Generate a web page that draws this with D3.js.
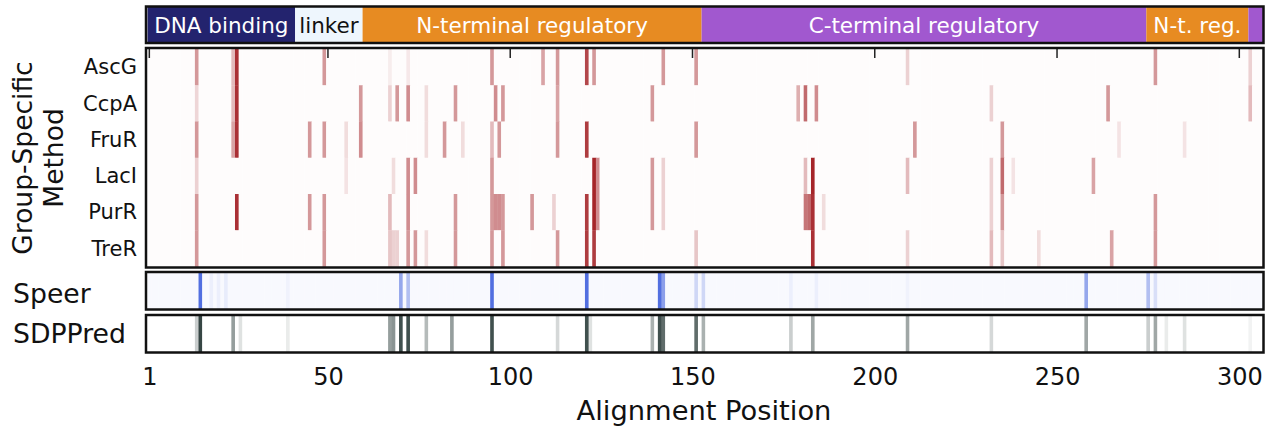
<!DOCTYPE html>
<html><head><meta charset="utf-8">
<script src="https://cdn.jsdelivr.net/npm/d3@7"></script>
<style>body{margin:0;background:#fff}svg{display:block}text{font-family:"DejaVu Sans",sans-serif}</style>
</head><body><svg id="c" width="1282" height="430"></svg>
<script>
// ---- data ----
const nPos = 306;
const tickValues = [1, 50, 100, 150, 200, 250, 300];
const rowNames = ["AscG", "CcpA", "FruR", "LacI", "PurR", "TreR"];
const domainNames = ["DNA binding", "linker", "N-terminal regulatory", "C-terminal regulatory", "N-t. reg.", ""];
const domainStart = [0.5, 41, 59.5, 152.5, 274.5, 302.5];
const domainEnd = [41, 59.5, 152.5, 274.5, 302.5, 306.5];
// [alignment position, score 0..1]
const ascG = [[14,0.45],[24,0.3],[25,0.9],[49,0.45],[67,0.08],[72,0.1],[95,0.45],[109,0.4],[113,0.45],[121,0.8],[123,0.45],[142,0.45],[151,0.45],[209,0.2],[277,0.45],[303,0.2]];
const ccpA = [[14,0.18],[24,0.3],[25,0.9],[59,0.45],[67,0.2],[69,0.45],[72,0.5],[77,0.15],[85,0.45],[96,0.5],[98,0.45],[113,0.4],[139,0.45],[179,0.35],[181,0.65],[184,0.5],[232,0.2],[264,0.45],[303,0.3]];
const fruR = [[14,0.45],[24,0.4],[25,0.9],[45,0.45],[49,0.45],[55,0.15],[59,0.5],[77,0.15],[82,0.45],[87,0.15],[95,0.3],[97,0.45],[113,0.45],[121,0.85],[151,0.45],[211,0.45],[235,0.45],[267,0.12],[285,0.12]];
const lacI = [[14,0.2],[55,0.12],[68,0.15],[72,0.5],[74,0.5],[95,0.45],[123,0.95],[124,0.5],[139,0.45],[142,0.2],[181,0.3],[183,0.95],[209,0.3],[232,0.2],[235,0.65],[238,0.12],[260,0.4]];
const purR = [[14,0.45],[25,0.9],[45,0.45],[49,0.45],[67,0.3],[72,0.5],[85,0.45],[95,0.45],[96,0.5],[97,0.5],[98,0.45],[106,0.45],[112,0.2],[121,0.85],[123,0.95],[124,0.5],[139,0.45],[142,0.2],[181,0.6],[182,0.65],[183,0.9],[186,0.15],[232,0.2],[235,0.45],[277,0.45]];
const treR = [[14,0.45],[49,0.45],[67,0.25],[68,0.2],[69,0.2],[72,0.45],[74,0.45],[77,0.15],[85,0.45],[95,0.45],[98,0.45],[113,0.45],[121,0.85],[123,0.85],[151,0.25],[183,0.9],[209,0.2],[232,0.3],[235,0.25],[245,0.15],[265,0.4],[277,0.45]];
const speer = [[15,0.9],[18,0.1],[20,0.1],[22,0.12],[39,0.08],[70,0.55],[72,0.4],[95,0.9],[121,0.9],[141,0.9],[142,0.6],[151,0.25],[153,0.25],[177,0.1],[184,0.1],[209,0.08],[258,0.55],[275,0.4],[277,0.2]];
const sdpPred = [[14,0.25],[15,0.95],[24,0.5],[26,0.15],[39,0.1],[67,0.5],[68,0.55],[70,0.9],[72,0.9],[77,0.35],[84,0.5],[95,0.9],[113,0.2],[121,0.9],[122,0.15],[139,0.4],[141,0.9],[142,0.75],[151,0.75],[153,0.4],[177,0.25],[183,0.45],[209,0.45],[232,0.2],[258,0.45],[275,0.25],[277,0.45],[280,0.1],[285,0.15],[303,0.06]];
const heatRows = [ascG, ccpA, fruR, lacI, purR, treR];

// ---- drawing ----
const svg = d3.select("#c");
const x = d3.scaleLinear().domain([0.5, nPos + 0.5]).range([147.5, 1263]);
const allPos = d3.range(1, nPos + 1);
const redC = d3.scaleLinear().domain([0, 1]).range(["#ffffff", "#a0191e"]).clamp(true);
const blueC = d3.scaleLinear().domain([0, 1]).range(["#ffffff", "#3f5fdc"]).clamp(true);
const grayC = d3.scaleLinear().domain([0, 1]).range(["#ffffff", "#2b3c3a"]).clamp(true);

function strip(g, pairs, y0, h, color, base) {
  const m = new Map(pairs);
  g.selectAll(null).data(allPos).join("rect")
    .attr("x", p => x(p - 0.5)).attr("width", p => x(p + 0.5) - x(p - 0.5) + 0.4)
    .attr("y", y0).attr("height", h)
    .attr("fill", p => color(m.has(p) ? m.get(p) : base));
}

// domain bar
const dom = svg.append("g");
const domColors = ["#23236e", "#eef6fd", "#e78b22", "#a158cf", "#e78b22", "#a158cf"];
const domText = ["#ffffff", "#111111", "#ffffff", "#ffffff", "#ffffff", "#ffffff"];
domainNames.forEach((n, i) => {
  dom.append("rect").attr("x", x(domainStart[i])).attr("width", x(domainEnd[i]) - x(domainStart[i]))
    .attr("y", 7).attr("height", 36).attr("fill", domColors[i]);
  if (n) dom.append("text").attr("x", (x(domainStart[i]) + x(domainEnd[i])) / 2).attr("y", 25)
    .attr("dy", "0.35em").attr("text-anchor", "middle").attr("font-size", 21.5).attr("fill", domText[i]).text(n);
});
dom.append("rect").attr("x", 146).attr("y", 6.5).attr("width", 1117.5).attr("height", 36.5)
  .attr("fill", "none").attr("stroke", "#111").attr("stroke-width", 2.5);

// heatmap
const yRow = d3.scaleBand().domain(rowNames).range([49, 266.5]);
const hm = svg.append("g");
heatRows.forEach((pairs, i) => strip(hm.append("g"), pairs, yRow(rowNames[i]), yRow.bandwidth() + 0.4, redC, 0.015));
hm.append("g").selectAll("line").data(tickValues).join("line")
  .attr("x1", d => x(d)).attr("x2", d => x(d)).attr("y1", 49).attr("y2", 58)
  .attr("stroke", "#222").attr("stroke-width", 1.5);
hm.append("rect").attr("x", 146).attr("y", 48).attr("width", 1117.5).attr("height", 219.5)
  .attr("fill", "none").attr("stroke", "#111").attr("stroke-width", 2.5);
svg.append("g").selectAll("text").data(rowNames).join("text")
  .attr("x", 137).attr("y", d => yRow(d) + yRow.bandwidth() / 2).attr("dy", "0.35em")
  .attr("text-anchor", "end").attr("font-size", 21).attr("fill", "#111").text(d => d);

// speer
strip(svg.append("g"), speer, 273, 36, blueC, 0.035);
svg.append("rect").attr("x", 146).attr("y", 272).attr("width", 1117.5).attr("height", 37.5)
  .attr("fill", "none").attr("stroke", "#111").attr("stroke-width", 2.5);
// sdppred
strip(svg.append("g"), sdpPred, 316, 36, grayC, 0.0);
svg.append("rect").attr("x", 146).attr("y", 315).attr("width", 1117.5).attr("height", 37.5)
  .attr("fill", "none").attr("stroke", "#111").attr("stroke-width", 2.5);

// labels
svg.append("text").attr("x", 13).attr("y", 294).attr("dy", "0.35em").attr("font-size", 26.7).attr("fill", "#111").text("Speer");
svg.append("text").attr("x", 13).attr("y", 334).attr("dy", "0.35em").attr("font-size", 26.7).attr("fill", "#111").text("SDPPred");
const gl = svg.append("text").attr("transform", "translate(0,158) rotate(-90)").attr("text-anchor", "middle")
  .attr("font-size", 26.5).attr("fill", "#111");
gl.append("tspan").attr("x", 0).attr("y", 32).text("Group-Specific");
gl.append("tspan").attr("x", 0).attr("y", 63).text("Method");

// x axis labels
const ax = d3.axisBottom(x).tickValues(tickValues).tickSize(0).tickPadding(0).tickFormat(d3.format("d"));
const axg = svg.append("g").attr("transform", "translate(0,368)").call(ax);
axg.select(".domain").remove();
axg.selectAll("text").attr("font-size", 24).attr("fill", "#111").attr("font-family", "DejaVu Sans");
svg.append("text").attr("x", 704).attr("y", 420).attr("text-anchor", "middle").attr("font-size", 27.3).attr("fill", "#111").text("Alignment Position");
</script></body></html>
